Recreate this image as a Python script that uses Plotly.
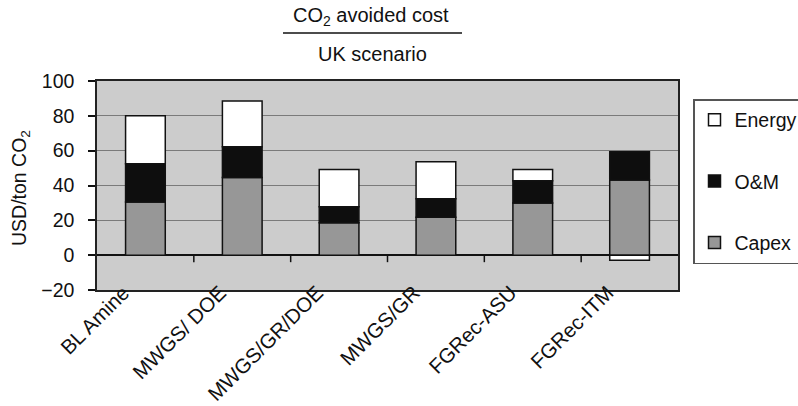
import plotly.graph_objects as go

categories = ["BL Amine", "MWGS/ DOE", "MWGS/GR/DOE", "MWGS/GR", "FGRec-ASU", "FGRec-ITM"]
capex = [30.5, 44.6, 18.6, 21.8, 30.0, 43.1]
om = [22.0, 17.6, 9.2, 10.6, 12.7, 16.3]
energy = [27.5, 26.3, 21.4, 21.2, 6.5, -2.9]
y_ticks = [-20, 0, 20, 40, 60, 80, 100]

W, H = 798, 406
L, R, T, B = 97, 120, 81, 116
pw, ph = W - L - R, H - T - B

def px(x):
    return (x - L) / pw

def py(y):
    return (H - B - y) / ph

FONT = "Liberation Sans, Arial, sans-serif"
FS = 19.5

fig = go.Figure()
series = [("Capex", capex, "#979797", 3), ("O&M", om, "#0e0e0e", 2), ("Energy", energy, "#ffffff", 1)]
for name, vals, col, rank in series:
    fig.add_trace(go.Bar(
        x=categories, y=vals, name=name, width=0.41,
        marker=dict(color=col, line=dict(color="#111111", width=1.5)),
        legendgroup=name, legendrank=rank,
    ))

# boundary tick marks on the zero line
for i in range(1, len(categories)):
    fig.add_shape(type="line", xref="x", yref="y", x0=i - 0.5, x1=i - 0.5,
                  ysizemode="pixel", yanchor=0, y0=0, y1=-7,
                  line=dict(color="#111111", width=1.5))

fig.update_layout(
    width=W, height=H,
    margin=dict(l=L, r=R, t=T, b=B, autoexpand=False),
    paper_bgcolor="white", plot_bgcolor="#cccccc",
    barmode="relative", bargap=0.59,
    font=dict(family=FONT, size=FS, color="#111111"),
    showlegend=True,
    legend=dict(
        x=px(693), xanchor="left", y=py(99), yanchor="top",
        bordercolor="#555555", borderwidth=1.5, bgcolor="white",
        traceorder="grouped", tracegroupgap=33,
        font=dict(family=FONT, size=FS, color="#111111"),
        itemwidth=30,
    ),
    xaxis=dict(
        type="category", tickangle=-45, ticks="", showgrid=False, automargin=False,
        showline=True, linecolor="#222222", linewidth=1.5, mirror=True,
        tickfont=dict(family=FONT, size=20.5),
        ticklabelstandoff=-19, ticklabelshift=-22,
    ),
    yaxis=dict(
        range=[-20, 100], tickvals=y_ticks, showgrid=True, automargin=False,
        gridcolor="#7a7a7a", gridwidth=1.2,
        zeroline=True, zerolinecolor="#111111", zerolinewidth=1.5,
        showline=True, linecolor="#222222", linewidth=1.5, mirror=True,
        ticks="outside", ticklen=7, tickcolor="#111111", tickwidth=1.5,
        ticklabelstandoff=10,
        tickfont=dict(family=FONT, size=FS),
    ),
)

# title with rule line
fig.add_annotation(xref="paper", yref="paper", x=px(371), y=py(17), text="CO<sub>2</sub> avoided cost",
                   showarrow=False, xanchor="center", yanchor="middle",
                   font=dict(family=FONT, size=FS + 0.5, color="#111111"))
fig.add_shape(type="line", xref="paper", yref="paper", x0=px(283), x1=px(462), y0=py(33), y1=py(33),
              line=dict(color="#111111", width=1.5))
fig.add_annotation(xref="paper", yref="paper", x=px(372), y=py(54), text="UK scenario",
                   showarrow=False, xanchor="center", yanchor="middle",
                   font=dict(family=FONT, size=FS + 0.5, color="#111111"))
# y-axis title
fig.add_annotation(xref="paper", yref="paper", x=px(20), y=py(188), text="USD/ton CO<sub>2</sub>",
                   textangle=-90, showarrow=False, xanchor="center", yanchor="middle",
                   font=dict(family=FONT, size=FS, color="#111111"))

fig.write_html("out.html", post_script="document.body.style.margin='0';",
               config={"displayModeBar": False})
